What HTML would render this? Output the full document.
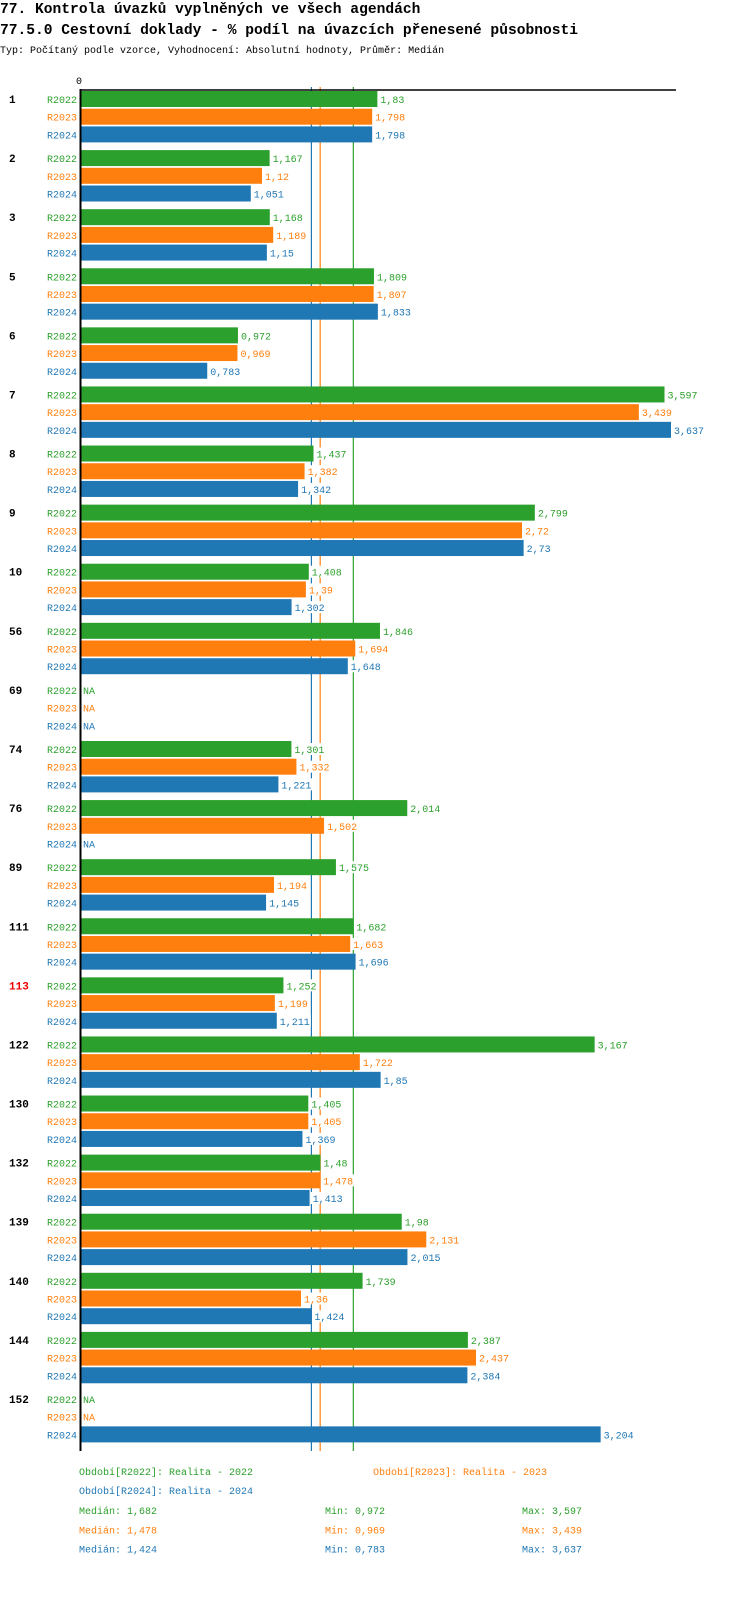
<!DOCTYPE html>
<html><head><meta charset="utf-8"><style>
body{margin:0;background:#fff;width:750px;height:1592px;overflow:hidden;font-family:"Liberation Mono","DejaVu Sans Mono",monospace}
</style></head><body>
<svg id="c" width="750" height="1592" xmlns="http://www.w3.org/2000/svg" font-family="Liberation Mono, DejaVu Sans Mono, monospace">
<text x="0" y="13" font-size="14.6" font-weight="bold">77. Kontrola úvazků vyplněných ve všech agendách</text>
<text x="0" y="34" font-size="14.6" font-weight="bold">77.5.0 Cestovní doklady - % podíl na úvazcích přenesené působnosti</text>
<text x="0" y="53" font-size="10">Typ: Počítaný podle vzorce, Vyhodnocení: Absolutní hodnoty, Průměr: Medián</text>
<text x="76" y="84" font-size="10">0</text>
<g id="lines"></g><g id="bars"></g>
<line x1="80" y1="90" x2="676" y2="90" stroke="#000" stroke-width="1.5"/>
<line x1="80.5" y1="89" x2="80.5" y2="1451" stroke="#000" stroke-width="2"/>
<g font-size="10">
<text x="79" y="1475" fill="#2ca02c">Období[R2022]: Realita - 2022</text>
<text x="373" y="1475" fill="#ff7f0e">Období[R2023]: Realita - 2023</text>
<text x="79" y="1494" fill="#1f77b4">Období[R2024]: Realita - 2024</text>
</g>
<g id="stats" font-size="10"></g>
</svg>
<script>
const groups=["1","2","3","5","6","7","8","9","10","56","69","74","76","89","111","113","122","130","132","139","140","144","152"];
const series=["R2022","R2023","R2024"];
const r2022=[1.83,1.167,1.168,1.809,0.972,3.597,1.437,2.799,1.408,1.846,null,1.301,2.014,1.575,1.682,1.252,3.167,1.405,1.48,1.98,1.739,2.387,null];
const r2023=[1.798,1.12,1.189,1.807,0.969,3.439,1.382,2.72,1.39,1.694,null,1.332,1.502,1.194,1.663,1.199,1.722,1.405,1.478,2.131,1.36,2.437,null];
const r2024=[1.798,1.051,1.15,1.833,0.783,3.637,1.342,2.73,1.302,1.648,null,1.221,null,1.145,1.696,1.211,1.85,1.369,1.413,2.015,1.424,2.384,3.204];
const medians=[1.682,1.478,1.424];
const mins=[0.972,0.969,0.783];
const maxs=[3.597,3.439,3.637];
const highlighted=["113"];
const colors=["#2ca02c","#ff7f0e","#1f77b4"];
const NS="http://www.w3.org/2000/svg";
const x=v=>80+v*162.5;
const yRow=(g,s)=>99+g*59.09+s*17.7;
const fmt=v=>String(v).replace('.',',');
const bars=document.getElementById('bars'),lines=document.getElementById('lines'),stats=document.getElementById('stats');
function mk(tag,attrs,parent,txt){const e=document.createElementNS(NS,tag);for(const k in attrs)e.setAttribute(k,attrs[k]);if(txt!=null)e.textContent=txt;parent.appendChild(e);return e;}
[2,1,0].forEach(i=>{
  const l=mk('line',{x1:x(medians[i]),x2:x(medians[i]),y1:87,y2:1451,stroke:colors[i],'stroke-width':1.2},lines);
  
  
});
const data=[r2022,r2023,r2024];
groups.forEach((g,gi)=>{
  const gl=mk('text',{x:9,y:yRow(gi,0)+4,'font-size':11,'font-weight':'bold',fill:highlighted.includes(g)?'#e00':'#000'},bars,g);
  
  
  series.forEach((s,si)=>{
    const y=yRow(gi,si),v=data[si][gi];
    const sl=mk('text',{x:77,y:y+4,'font-size':10,fill:colors[si],'text-anchor':'end'},bars,s);
    
    
    if(v!=null){
      const r=mk('rect',{x:81,y:y-8,width:x(v)-81,height:16,fill:colors[si]},bars);
      
      
      const t=fmt(v);
      mk('rect',{x:x(v)+1,y:y-6,width:t.length*6+3,height:12,fill:'#fff'},bars);
      const vl=mk('text',{x:x(v)+3,y:y+4,'font-size':10,fill:colors[si]},bars,t);
      
      
    } else {
      const nl=mk('text',{x:83,y:y+4,'font-size':10,fill:colors[si]},bars,'NA');
      
      
    }
  });
});
series.forEach((s,i)=>{
  const y=1514+i*19.3;
  const a=mk('text',{x:79,y:y,fill:colors[i]},stats,'Medián: '+fmt(medians[i]));
  
  
  const b=mk('text',{x:325,y:y,fill:colors[i]},stats,'Min: '+fmt(mins[i]));
  
  
  const c=mk('text',{x:522,y:y,fill:colors[i]},stats,'Max: '+fmt(maxs[i]));
  
  
});
</script>
</body></html>
